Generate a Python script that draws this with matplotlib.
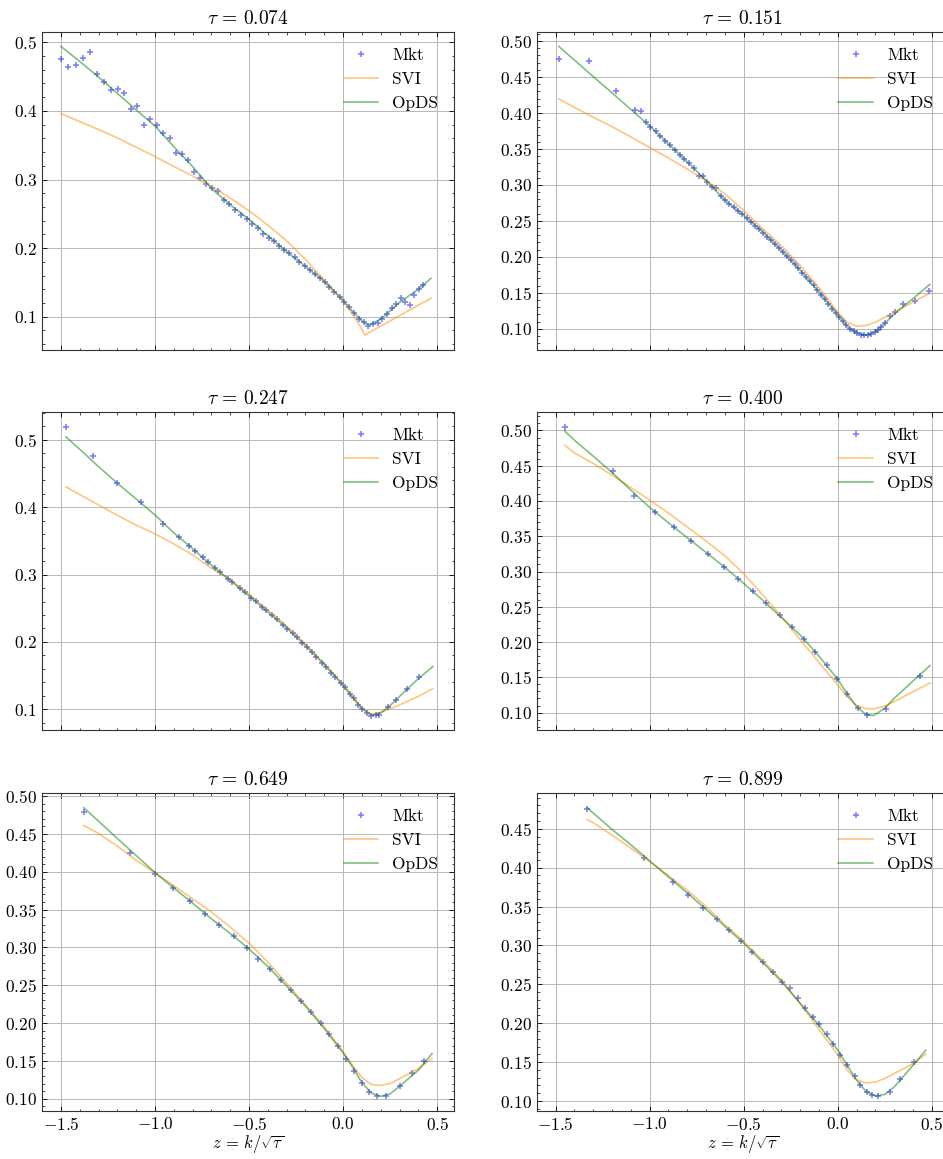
import matplotlib
matplotlib.use("Agg")
import matplotlib.pyplot as plt
from matplotlib.ticker import AutoMinorLocator, MultipleLocator

# maturities (one panel each)
taus = [0.074, 0.151, 0.247, 0.400, 0.649, 0.899]
y_steps = [0.1, 0.05, 0.1, 0.05, 0.05, 0.05]

# market quotes
mkt_z_1 = [-1.501, -1.460, -1.421, -1.382, -1.347, -1.308, -1.271, -1.235, -1.198, -1.163,
           -1.127, -1.094, -1.058, -1.025, -0.991, -0.958, -0.922, -0.888, -0.857, -0.825,
           -0.793, -0.761, -0.729, -0.697, -0.665, -0.635, -0.604, -0.573, -0.543, -0.513,
           -0.483, -0.455, -0.425, -0.396, -0.368, -0.340, -0.313, -0.285, -0.258, -0.232,
           -0.204, -0.177, -0.150, -0.124, -0.097, -0.073, -0.046, -0.019, 0.005, 0.032,
           0.057, 0.083, 0.110, 0.135, 0.159, 0.184, 0.209, 0.234, 0.258, 0.281,
           0.306, 0.331, 0.356, 0.379, 0.404, 0.427]
mkt_v_1 = [0.476, 0.4636, 0.4675, 0.477, 0.4864, 0.454, 0.442, 0.430, 0.432, 0.4257,
           0.403, 0.4073, 0.3796, 0.388, 0.3796, 0.368, 0.360, 0.338, 0.337, 0.328,
           0.311, 0.302, 0.294, 0.287, 0.284, 0.270, 0.264, 0.255, 0.249, 0.242,
           0.235, 0.229, 0.220, 0.2155, 0.210, 0.203, 0.197, 0.1927, 0.1864, 0.180,
           0.1743, 0.168, 0.162, 0.1563, 0.150, 0.1437, 0.1364, 0.1286, 0.122, 0.1136,
           0.1058, 0.0966, 0.0917, 0.0869, 0.0898, 0.0903, 0.097, 0.1044, 0.1121, 0.118,
           0.128, 0.122, 0.1175, 0.132, 0.140, 0.1466]

mkt_z_2 = [-1.483, -1.325, -1.178, -1.077, -1.047, -1.022, -0.996, -0.969, -0.944, -0.918,
           -0.893, -0.866, -0.841, -0.815, -0.790, -0.765, -0.740, -0.716, -0.693, -0.670,
           -0.645, -0.622, -0.599, -0.576, -0.553, -0.530, -0.507, -0.485, -0.462, -0.441,
           -0.418, -0.397, -0.376, -0.354, -0.333, -0.312, -0.291, -0.271, -0.250, -0.229,
           -0.209, -0.188, -0.168, -0.149, -0.128, -0.108, -0.089, -0.069, -0.050, -0.030,
           -0.011, 0.009, 0.028, 0.046, 0.066, 0.085, 0.103, 0.122, 0.140, 0.159,
           0.177, 0.197, 0.214, 0.232, 0.250, 0.278, 0.305, 0.347, 0.409, 0.487]
mkt_v_2 = [0.475, 0.4718, 0.431, 0.4037, 0.4032, 0.3875, 0.381, 0.3745, 0.3676, 0.361,
           0.355, 0.348, 0.341, 0.336, 0.3306, 0.323, 0.313, 0.312, 0.3046, 0.2977,
           0.296, 0.284, 0.2787, 0.2736, 0.269, 0.2644, 0.2593, 0.2542, 0.2486, 0.2435,
           0.2384, 0.2333, 0.2282, 0.2231, 0.2176, 0.212, 0.2065, 0.201, 0.1954, 0.1898,
           0.1843, 0.1782, 0.1722, 0.1662, 0.1602, 0.1537, 0.1472, 0.1407, 0.1343, 0.1278,
           0.1218, 0.1157, 0.1106, 0.1046, 0.100, 0.0963, 0.0935, 0.0917, 0.0912, 0.0912,
           0.0921, 0.0949, 0.0977, 0.1023, 0.1074, 0.118, 0.1236, 0.1347, 0.138, 0.1523]

mkt_z_3 = [-1.473, -1.331, -1.200, -1.073, -0.956, -0.874, -0.818, -0.788, -0.747, -0.720,
           -0.681, -0.653, -0.614, -0.588, -0.550, -0.524, -0.490, -0.464, -0.432, -0.409,
           -0.377, -0.352, -0.320, -0.297, -0.267, -0.244, -0.216, -0.193, -0.165, -0.142,
           -0.113, -0.090, -0.062, -0.041, -0.012, 0.009, 0.035, 0.057, 0.081, 0.103,
           0.127, 0.149, 0.173, 0.189, 0.237, 0.281, 0.340, 0.404]
mkt_v_3 = [0.5193, 0.4762, 0.4356, 0.408, 0.3748, 0.3554, 0.3426, 0.3356, 0.3257, 0.3188,
           0.3094, 0.3035, 0.294, 0.2886, 0.280, 0.2748, 0.2658, 0.2609, 0.2525, 0.2475,
           0.2396, 0.2337, 0.2257, 0.2198, 0.2129, 0.207, 0.199, 0.1926, 0.1847, 0.1782,
           0.1693, 0.1634, 0.1545, 0.1485, 0.1391, 0.1327, 0.1233, 0.1163, 0.1064, 0.100,
           0.094, 0.0906, 0.092, 0.092, 0.1035, 0.1134, 0.1307, 0.1475]

mkt_z_4 = [-1.451, -1.194, -1.082, -0.973, -0.873, -0.781, -0.691, -0.606, -0.528, -0.452,
           -0.379, -0.308, -0.243, -0.179, -0.119, -0.058, -0.002, 0.051, 0.105, 0.156,
           0.255, 0.436]
mkt_v_4 = [0.505, 0.4423, 0.4069, 0.3847, 0.3635, 0.3436, 0.3247, 0.3063, 0.2898, 0.2728,
           0.2558, 0.2388, 0.2218, 0.2048, 0.1864, 0.168, 0.1482, 0.1269, 0.1071, 0.0962,
           0.1052, 0.1524]

mkt_z_5 = [-1.377, -1.131, -0.998, -0.903, -0.816, -0.733, -0.657, -0.582, -0.513, -0.453,
           -0.389, -0.331, -0.276, -0.223, -0.172, -0.120, -0.073, -0.028, 0.018, 0.058,
           0.101, 0.140, 0.181, 0.228, 0.301, 0.366, 0.432]
mkt_v_5 = [0.4793, 0.425, 0.3975, 0.379, 0.3613, 0.3445, 0.3294, 0.3153, 0.2994, 0.2852,
           0.2715, 0.2569, 0.2432, 0.2287, 0.2141, 0.1995, 0.1853, 0.1694, 0.1526, 0.1367,
           0.1208, 0.1088, 0.1031, 0.1031, 0.1164, 0.134, 0.150]

mkt_z_6 = [-1.332, -1.029, -0.877, -0.794, -0.716, -0.643, -0.578, -0.514, -0.455, -0.400,
           -0.347, -0.298, -0.252, -0.214, -0.172, -0.131, -0.101, -0.060, -0.025, 0.014,
           0.050, 0.089, 0.120, 0.154, 0.184, 0.213, 0.276, 0.331, 0.404]
mkt_v_6 = [0.4753, 0.4126, 0.3816, 0.3644, 0.3485, 0.3334, 0.3197, 0.3055, 0.2922, 0.2788,
           0.266, 0.2535, 0.2449, 0.2324, 0.2195, 0.2079, 0.1993, 0.1868, 0.1735, 0.1598,
           0.146, 0.1327, 0.1206, 0.1116, 0.1073, 0.106, 0.112, 0.1284, 0.1499]

# fitted curves (SVI and OpDS), read at these z values
fit_z_1 = [-1.5, -1.4, -1.3, -1.2, -1.1, -1.0, -0.9, -0.8, -0.7, -0.6, -0.5, -0.4,
           -0.3, -0.2, -0.1, 0.0, 0.05, 0.1, 0.115, 0.14, 0.2, 0.3, 0.4, 0.467]
opds_1 = [0.494, 0.472, 0.4495, 0.4257, 0.4015, 0.378, 0.348, 0.319, 0.287, 0.263, 0.242, 0.218,
          0.195, 0.1733, 0.1515, 0.124, 0.108, 0.094, 0.0905, 0.0883, 0.0966, 0.121, 0.140, 0.156]
svi_1 = [0.396, 0.3845, 0.373, 0.3607, 0.347, 0.3335, 0.319, 0.305, 0.290, 0.273, 0.2544, 0.2335,
         0.2107, 0.1835, 0.153, 0.1233, 0.104, 0.082, 0.0733, 0.0772, 0.0864, 0.1015, 0.117, 0.1267]

fit_z_2 = [-1.483, -1.4, -1.3, -1.2, -1.1, -1.0, -0.9, -0.8, -0.7, -0.6, -0.5, -0.4,
           -0.3, -0.2, -0.1, 0.0, 0.05, 0.1, 0.15, 0.2, 0.25, 0.3, 0.4, 0.489]
opds_2 = [0.4926, 0.4736, 0.4506, 0.428, 0.405, 0.382, 0.357, 0.332, 0.306, 0.2787, 0.2577, 0.2347,
          0.209, 0.1815, 0.151, 0.119, 0.1035, 0.094, 0.0912, 0.0955, 0.1074, 0.1205, 0.142, 0.1616]
svi_2 = [0.4194, 0.4079, 0.394, 0.381, 0.3667, 0.352, 0.3375, 0.322, 0.306, 0.2875, 0.2644, 0.2394,
         0.2157, 0.188, 0.157, 0.123, 0.109, 0.1035, 0.1046, 0.109, 0.116, 0.123, 0.137, 0.1495]

fit_z_3 = [-1.473, -1.4, -1.3, -1.2, -1.1, -1.0, -0.9, -0.8, -0.7, -0.6, -0.5, -0.4,
           -0.3, -0.2, -0.1, 0.0, 0.05, 0.1, 0.15, 0.2, 0.25, 0.3, 0.4, 0.477]
opds_3 = [0.5045, 0.4861, 0.4604, 0.4356, 0.4124, 0.3886, 0.362, 0.3385, 0.314, 0.2915, 0.2685, 0.2446,
          0.2208, 0.1946, 0.1662, 0.1355, 0.118, 0.101, 0.0912, 0.0945, 0.1055, 0.119, 0.1455, 0.1634]
svi_3 = [0.4302, 0.4188, 0.4035, 0.388, 0.3735, 0.3605, 0.3455, 0.3292, 0.3095, 0.2925, 0.2705, 0.2475,
         0.2235, 0.197, 0.1675, 0.1365, 0.119, 0.1015, 0.0925, 0.0955, 0.1005, 0.1065, 0.119, 0.1307]

fit_z_4 = [-1.451, -1.4, -1.3, -1.2, -1.1, -1.0, -0.9, -0.8, -0.7, -0.6, -0.5, -0.4,
           -0.3, -0.2, -0.1, 0.0, 0.05, 0.1, 0.15, 0.19, 0.25, 0.3, 0.4, 0.49]
opds_4 = [0.499, 0.4862, 0.4635, 0.4404, 0.4154, 0.3908, 0.3691, 0.3479, 0.3271, 0.3059, 0.2832, 0.2596,
          0.235, 0.21, 0.180, 0.1472, 0.1264, 0.1085, 0.0972, 0.0958, 0.1061, 0.1203, 0.1449, 0.1666]
svi_4 = [0.4787, 0.4683, 0.4532, 0.4366, 0.4192, 0.4012, 0.3828, 0.3632, 0.3432, 0.3222, 0.2968, 0.2672,
         0.2365, 0.2035, 0.171, 0.139, 0.1227, 0.1099, 0.1057, 0.1052, 0.1094, 0.1156, 0.1297, 0.142]

fit_z_5 = [-1.379, -1.3, -1.2, -1.1, -1.0, -0.9, -0.8, -0.7, -0.6, -0.5, -0.4, -0.3,
           -0.2, -0.1, 0.0, 0.05, 0.1, 0.15, 0.2, 0.25, 0.3, 0.4, 0.473]
opds_5 = [0.4846, 0.4669, 0.4439, 0.4214, 0.3989, 0.3785, 0.3586, 0.3378, 0.3184, 0.298, 0.2746, 0.249,
          0.2225, 0.1928, 0.1606, 0.142, 0.1212, 0.1075, 0.1031, 0.1065, 0.1164, 0.1376, 0.1597]
svi_5 = [0.4612, 0.4506, 0.4338, 0.4152, 0.3984, 0.3816, 0.3644, 0.3467, 0.3268, 0.3056, 0.2804, 0.2525,
         0.2238, 0.195, 0.1619, 0.1442, 0.1279, 0.1186, 0.1177, 0.120, 0.1265, 0.1398, 0.1531]

fit_z_6 = [-1.332, -1.3, -1.2, -1.1, -1.0, -0.9, -0.8, -0.7, -0.6, -0.5, -0.4, -0.3,
           -0.2, -0.1, 0.0, 0.05, 0.1, 0.15, 0.2, 0.25, 0.3, 0.4, 0.468]
opds_6 = [0.477, 0.4702, 0.4491, 0.4293, 0.4087, 0.388, 0.3674, 0.3463, 0.3244, 0.3029, 0.2784, 0.2539,
          0.2255, 0.1976, 0.1653, 0.146, 0.1267, 0.1125, 0.1064, 0.1086, 0.1181, 0.146, 0.1653]
svi_6 = [0.462, 0.4577, 0.4418, 0.425, 0.4078, 0.3898, 0.3709, 0.3502, 0.3266, 0.3051, 0.2806, 0.2556,
         0.2255, 0.192, 0.1589, 0.1396, 0.1275, 0.1232, 0.1245, 0.129, 0.1353, 0.1482, 0.1602]

mkt_z = [mkt_z_1, mkt_z_2, mkt_z_3, mkt_z_4, mkt_z_5, mkt_z_6]
mkt_v = [mkt_v_1, mkt_v_2, mkt_v_3, mkt_v_4, mkt_v_5, mkt_v_6]
fit_z = [fit_z_1, fit_z_2, fit_z_3, fit_z_4, fit_z_5, fit_z_6]
svi = [svi_1, svi_2, svi_3, svi_4, svi_5, svi_6]
opds = [opds_1, opds_2, opds_3, opds_4, opds_5, opds_6]


def set_style() -> None:
    plt.rcParams.update({
        "font.family": "serif",
        "font.serif": ["cmr10", "DejaVu Serif"],
        "mathtext.fontset": "cm",
        "axes.formatter.use_mathtext": True,
        "axes.unicode_minus": True,
        "font.size": 12.5,
        "axes.linewidth": 0.8,
        "axes.edgecolor": "0.2",
        "xtick.direction": "in",
        "ytick.direction": "in",
        "xtick.top": True,
        "ytick.right": True,
        "xtick.major.size": 3.5,
        "ytick.major.size": 3.5,
        "xtick.minor.size": 1.8,
        "ytick.minor.size": 1.8,
        "xtick.major.width": 0.6,
        "ytick.major.width": 0.6,
        "xtick.minor.width": 0.5,
        "ytick.minor.width": 0.5,
        "legend.frameon": False,
        "legend.fontsize": 12.5,
        "axes.titlesize": 14,
    })


def draw_panel(ax, i: int) -> None:
    ax.plot(mkt_z[i], mkt_v[i], "+", color="blue", alpha=0.5, ms=5, mew=1.2, label="Mkt")
    ax.plot(fit_z[i], svi[i], color="darkorange", alpha=0.5, lw=1.2, label="SVI")
    ax.plot(fit_z[i], opds[i], color="green", alpha=0.5, lw=1.2, label="OpDS")
    ax.set_title(rf"$\tau \,=\, {taus[i]:.3f}$")
    ax.grid(True, color="0.72", lw=0.7)
    ax.yaxis.set_major_locator(MultipleLocator(y_steps[i]))
    ax.xaxis.set_minor_locator(AutoMinorLocator())
    ax.yaxis.set_minor_locator(AutoMinorLocator())
    ax.legend(loc="upper right")


def main() -> None:
    set_style()
    fig = plt.figure(figsize=(9.43, 11.59), dpi=100)

    W, H = 943, 1159
    lefts = [42, 536.7]
    tops = [32, 412.5, 793.3]
    w, h = 412, 317.5

    axes = []
    for i in range(6):
        row, col = divmod(i, 2)
        rect = [lefts[col] / W, 1 - (tops[row] + h) / H, w / W, h / H]
        ax = fig.add_axes(rect, sharex=axes[0] if axes else None)
        axes.append(ax)
        draw_panel(ax, i)

    for i, ax in enumerate(axes):
        if i < 4:
            ax.tick_params(labelbottom=False)
        else:
            ax.set_xlabel(r"$z \,=\, k/\sqrt{\tau}$", fontsize=12, labelpad=0.5)

    fig.savefig("out.png", dpi=100)
    plt.close(fig)


if __name__ == "__main__":
    main()
